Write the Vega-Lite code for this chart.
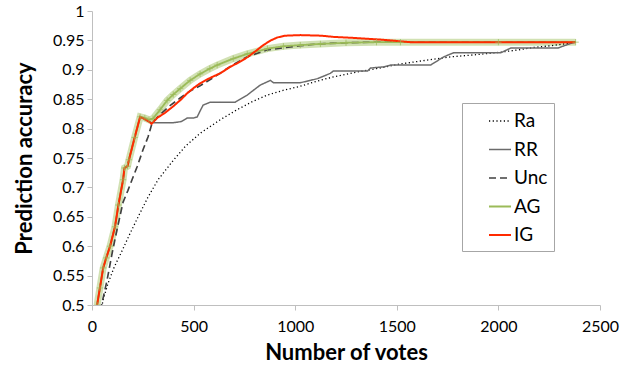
{
  "$schema": "https://vega.github.io/schema/vega-lite/v6.json",
  "autosize": {"type": "none"},
  "padding": {"left": 92, "top": 11, "right": 31, "bottom": 73},
  "width": 508,
  "height": 294,
  "background": "white",
  "config": {
    "view": {"stroke": null},
    "axis": {
      "domainColor": "#bfbfbf", "tickColor": "#bfbfbf", "grid": false, "tickSize": 5, "labelFlush": false, "labelOverlap": false,
      "labelFont": "Lato", "labelFontSize": 16, "labelColor": "#000",
      "titleFont": "Lato", "titleFontSize": 22, "titleFontWeight": "bold", "titleColor": "#000"
    }
  },
  "datasets": {
    "curves": [
      {"m":"Ra","x":45,"y":0.49},{"m":"Ra","x":54,"y":0.508},{"m":"Ra","x":79,"y":0.537},{"m":"Ra","x":110,"y":0.565},{"m":"Ra","x":145,"y":0.59},{"m":"Ra","x":185,"y":0.62},{"m":"Ra","x":227,"y":0.65},{"m":"Ra","x":275,"y":0.683},{"m":"Ra","x":325,"y":0.713},{"m":"Ra","x":400,"y":0.746},{"m":"Ra","x":460,"y":0.77},{"m":"Ra","x":532,"y":0.792},{"m":"Ra","x":631,"y":0.815},{"m":"Ra","x":713,"y":0.832},{"m":"Ra","x":790,"y":0.846},{"m":"Ra","x":863,"y":0.857},{"m":"Ra","x":940,"y":0.865},{"m":"Ra","x":1025,"y":0.872},{"m":"Ra","x":1100,"y":0.88},{"m":"Ra","x":1188,"y":0.888},{"m":"Ra","x":1300,"y":0.896},{"m":"Ra","x":1400,"y":0.902},{"m":"Ra","x":1518,"y":0.91},{"m":"Ra","x":1640,"y":0.916},{"m":"Ra","x":1765,"y":0.922},{"m":"Ra","x":1900,"y":0.926},{"m":"Ra","x":2012,"y":0.93},{"m":"Ra","x":2100,"y":0.934},{"m":"Ra","x":2175,"y":0.938},{"m":"Ra","x":2260,"y":0.941},{"m":"Ra","x":2342,"y":0.945},{"m":"Ra","x":2380,"y":0.947},
      {"m":"RR","x":25,"y":0.5},{"m":"RR","x":39,"y":0.529},{"m":"RR","x":55,"y":0.563},{"m":"RR","x":70,"y":0.58},{"m":"RR","x":89,"y":0.6},{"m":"RR","x":113,"y":0.633},{"m":"RR","x":130,"y":0.67},{"m":"RR","x":153,"y":0.713},{"m":"RR","x":160,"y":0.733},{"m":"RR","x":175,"y":0.736},{"m":"RR","x":182,"y":0.747},{"m":"RR","x":210,"y":0.785},{"m":"RR","x":237,"y":0.82},{"m":"RR","x":260,"y":0.816},{"m":"RR","x":280,"y":0.812},{"m":"RR","x":293,"y":0.81},{"m":"RR","x":400,"y":0.81},{"m":"RR","x":440,"y":0.812},{"m":"RR","x":468,"y":0.818},{"m":"RR","x":500,"y":0.818},{"m":"RR","x":518,"y":0.82},{"m":"RR","x":532,"y":0.83},{"m":"RR","x":547,"y":0.84},{"m":"RR","x":582,"y":0.845},{"m":"RR","x":705,"y":0.845},{"m":"RR","x":764,"y":0.857},{"m":"RR","x":790,"y":0.864},{"m":"RR","x":828,"y":0.874},{"m":"RR","x":878,"y":0.882},{"m":"RR","x":893,"y":0.878},{"m":"RR","x":1025,"y":0.878},{"m":"RR","x":1075,"y":0.882},{"m":"RR","x":1110,"y":0.885},{"m":"RR","x":1173,"y":0.894},{"m":"RR","x":1188,"y":0.898},{"m":"RR","x":1356,"y":0.898},{"m":"RR","x":1371,"y":0.903},{"m":"RR","x":1435,"y":0.905},{"m":"RR","x":1469,"y":0.908},{"m":"RR","x":1666,"y":0.908},{"m":"RR","x":1731,"y":0.922},{"m":"RR","x":1780,"y":0.929},{"m":"RR","x":2012,"y":0.929},{"m":"RR","x":2061,"y":0.937},{"m":"RR","x":2293,"y":0.937},{"m":"RR","x":2357,"y":0.945},{"m":"RR","x":2380,"y":0.947},
      {"m":"Unc","x":40,"y":0.49},{"m":"Unc","x":49,"y":0.503},{"m":"Unc","x":74,"y":0.542},{"m":"Unc","x":99,"y":0.588},{"m":"Unc","x":123,"y":0.628},{"m":"Unc","x":153,"y":0.675},{"m":"Unc","x":177,"y":0.695},{"m":"Unc","x":197,"y":0.713},{"m":"Unc","x":222,"y":0.735},{"m":"Unc","x":251,"y":0.764},{"m":"Unc","x":276,"y":0.786},{"m":"Unc","x":296,"y":0.81},{"m":"Unc","x":330,"y":0.822},{"m":"Unc","x":380,"y":0.838},{"m":"Unc","x":434,"y":0.852},{"m":"Unc","x":483,"y":0.864},{"m":"Unc","x":532,"y":0.873},{"m":"Unc","x":566,"y":0.88},{"m":"Unc","x":616,"y":0.891},{"m":"Unc","x":700,"y":0.91},{"m":"Unc","x":764,"y":0.922},{"m":"Unc","x":863,"y":0.934},{"m":"Unc","x":1025,"y":0.941},{"m":"Unc","x":1109,"y":0.944},{"m":"Unc","x":1250,"y":0.946},{"m":"Unc","x":1400,"y":0.947},{"m":"Unc","x":2380,"y":0.947},
      {"m":"AG","x":25,"y":0.5},{"m":"AG","x":39,"y":0.529},{"m":"AG","x":55,"y":0.563},{"m":"AG","x":70,"y":0.58},{"m":"AG","x":89,"y":0.6},{"m":"AG","x":113,"y":0.633},{"m":"AG","x":130,"y":0.67},{"m":"AG","x":153,"y":0.713},{"m":"AG","x":160,"y":0.733},{"m":"AG","x":175,"y":0.736},{"m":"AG","x":182,"y":0.747},{"m":"AG","x":210,"y":0.785},{"m":"AG","x":237,"y":0.82},{"m":"AG","x":260,"y":0.818},{"m":"AG","x":280,"y":0.815},{"m":"AG","x":300,"y":0.817},{"m":"AG","x":335,"y":0.832},{"m":"AG","x":370,"y":0.848},{"m":"AG","x":400,"y":0.858},{"m":"AG","x":434,"y":0.868},{"m":"AG","x":483,"y":0.882},{"m":"AG","x":532,"y":0.893},{"m":"AG","x":580,"y":0.902},{"m":"AG","x":616,"y":0.908},{"m":"AG","x":695,"y":0.919},{"m":"AG","x":764,"y":0.927},{"m":"AG","x":863,"y":0.936},{"m":"AG","x":942,"y":0.94},{"m":"AG","x":1025,"y":0.942},{"m":"AG","x":1124,"y":0.944},{"m":"AG","x":1250,"y":0.946},{"m":"AG","x":1400,"y":0.947},{"m":"AG","x":1518,"y":0.947},{"m":"AG","x":2000,"y":0.947},{"m":"AG","x":2380,"y":0.947},
      {"m":"IG","x":25,"y":0.5},{"m":"IG","x":39,"y":0.529},{"m":"IG","x":55,"y":0.563},{"m":"IG","x":70,"y":0.58},{"m":"IG","x":89,"y":0.6},{"m":"IG","x":113,"y":0.633},{"m":"IG","x":130,"y":0.67},{"m":"IG","x":153,"y":0.713},{"m":"IG","x":160,"y":0.733},{"m":"IG","x":175,"y":0.736},{"m":"IG","x":182,"y":0.747},{"m":"IG","x":210,"y":0.785},{"m":"IG","x":237,"y":0.82},{"m":"IG","x":260,"y":0.816},{"m":"IG","x":280,"y":0.812},{"m":"IG","x":293,"y":0.808},{"m":"IG","x":320,"y":0.818},{"m":"IG","x":360,"y":0.827},{"m":"IG","x":400,"y":0.838},{"m":"IG","x":440,"y":0.85},{"m":"IG","x":468,"y":0.86},{"m":"IG","x":500,"y":0.869},{"m":"IG","x":532,"y":0.877},{"m":"IG","x":580,"y":0.886},{"m":"IG","x":631,"y":0.894},{"m":"IG","x":680,"y":0.905},{"m":"IG","x":714,"y":0.911},{"m":"IG","x":750,"y":0.918},{"m":"IG","x":779,"y":0.925},{"m":"IG","x":810,"y":0.933},{"m":"IG","x":843,"y":0.942},{"m":"IG","x":880,"y":0.95},{"m":"IG","x":912,"y":0.955},{"m":"IG","x":950,"y":0.958},{"m":"IG","x":1025,"y":0.959},{"m":"IG","x":1130,"y":0.958},{"m":"IG","x":1188,"y":0.956},{"m":"IG","x":1300,"y":0.954},{"m":"IG","x":1435,"y":0.951},{"m":"IG","x":1500,"y":0.949},{"m":"IG","x":1568,"y":0.947},{"m":"IG","x":2000,"y":0.947},{"m":"IG","x":2380,"y":0.947}
    ]
  },
  "data": {"name": "curves"},
  "encoding": {
    "x": {"field": "x", "type": "quantitative", "scale": {"domain": [0, 2500], "nice": false},
          "axis": {"values": [0, 500, 1000, 1500, 2000, 2500], "format": "d", "title": "Number of votes", "labelPadding": 8, "titlePadding": 8}},
    "y": {"field": "y", "type": "quantitative", "scale": {"domain": [0.5, 1], "nice": false, "zero": false},
          "axis": {"values": [0.5, 0.55, 0.6, 0.65, 0.7, 0.75, 0.8, 0.85, 0.9, 0.95, 1], "format": "~g", "title": "Prediction accuracy", "labelPadding": 3, "titleX": -56, "titleY": 147, "titleBaseline": "bottom"}}
  },
  "layer": [
    {
      "transform": [{"filter": "datum.m === 'AG'"}],
      "mark": {"type": "line", "clip": true, "stroke": "#c6d9a0", "strokeWidth": 7, "opacity": 0.8},
      "encoding": {}
    },
    {
      "mark": {"type": "line", "clip": true},
      "encoding": {
        "color": {"field": "m", "type": "nominal", "scale": {"domain": ["Ra", "RR", "Unc", "AG", "IG"], "range": ["#000000", "#6b6b6b", "#404040", "#9bbb59", "#ff2a00"]},
                  "legend": {"title": null, "orient": "none", "legendX": 370, "legendY": 92, "strokeColor": "#a6a6a6", "padding": 6, "symbolType": "stroke", "symbolSize": 484, "symbolOffset": 20, "labelOffset": 2, "labelFont": "Lato", "labelFontSize": 19, "labelColor": "#000", "rowPadding": 6.5, "labelExpr": "datum.label + '\u00a0\u00a0\u00a0\u00a0\u00a0'"}},
        "strokeDash": {"field": "m", "type": "nominal", "scale": {"domain": ["Ra", "RR", "Unc", "AG", "IG"], "range": [[1.2, 2.5], [1, 0], [7, 4], [1, 0], [1, 0]]}},
        "strokeWidth": {"field": "m", "type": "nominal", "scale": {"domain": ["Ra", "RR", "Unc", "AG", "IG"], "range": [1.3, 2, 1.5, 2.2, 3]}}
      }
    },
    {
      "transform": [{"filter": "datum.m === 'AG'"}],
      "mark": {"type": "point", "clip": true, "shape": "M-1,0L1,0M0,-1L0,1", "filled": false, "stroke": "#9bbb59", "strokeWidth": 1, "size": 40},
      "encoding": {}
    }
  ]
}
